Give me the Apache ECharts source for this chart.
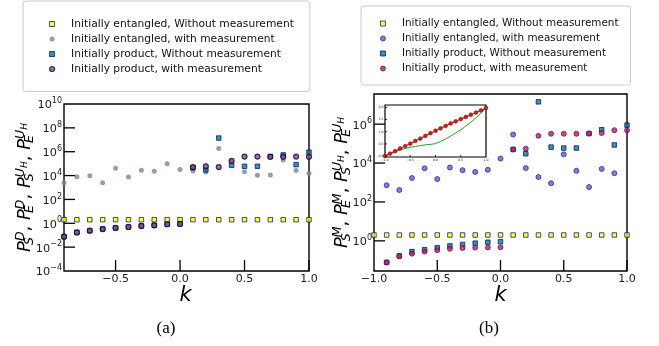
<!DOCTYPE html>
<html>
<head>
<meta charset="utf-8">
<script src="https://cdn.jsdelivr.net/npm/echarts@6/dist/echarts.min.js"></script>
<style>
  html, body { margin: 0; padding: 0; background: #fff; }
  #chart { width: 659px; height: 346px; }
</style>
</head>
<body>
<div id="chart"></div>
<script>
// k values
const kA = [-0.9, -0.8, -0.7, -0.6, -0.5, -0.4, -0.3, -0.2, -0.1, 0.0, 0.1, 0.2, 0.3, 0.4, 0.5, 0.6, 0.7, 0.8, 0.9, 1.0];
const kB = [-1.0, -0.9, -0.8, -0.7, -0.6, -0.5, -0.4, -0.3, -0.2, -0.1, 0.0, 0.1, 0.2, 0.3, 0.4, 0.5, 0.6, 0.7, 0.8, 0.9, 1.0];

// panel (a)
const entNoMeasA = [2, 2, 2, 2, 2, 2, 2, 2, 2, 2, 2, 2, 2, 2, 2, 2, 2, 2, 2, 2];
const entMeasA = [2.5e3, 8.1e3, 9.8e3, 2.5e3, 4.1e4, 7.6e3, 2.8e4, 2.3e4, 1.0e5, 3.3e4, 2.4e4, 2.0e4, 1.9e6, 1.6e5, 2.1e4, 1.05e4, 1.1e4, 2.0e5, 2.6e4, 1.6e4];
const prodNoMeasA = [0.076, 0.17, 0.24, 0.33, 0.41, 0.49, 0.60, 0.68, 0.83, 0.89, 4.5e4, 3.0e4, 1.4e7, 7.2e4, 6.0e4, 6.0e4, 4.0e5, 5.4e5, 8.3e4, 9.1e5];
const prodMeasA = [0.076, 0.17, 0.24, 0.33, 0.41, 0.49, 0.60, 0.68, 0.83, 0.89, 5.2e4, 6.0e4, 5.2e4, 1.7e5, 3.9e5, 3.9e5, 3.7e5, 3.7e5, 3.9e5, 3.7e5];

// panel (b)
const entNoMeasB = [2, 2, 2, 2, 2, 2, 2, 2, 2, 2, 2, 2, 2, 2, 2, 2, 2, 2, 2, 2, 2];
const entMeasB = [null, 720, 410, 1.7e3, 5.4e3, 1.5e3, 5.9e3, 4.3e3, 3.5e3, 4.5e3, 1.7e4, 2.9e5, 5.5e3, 1.9e3, 910, 2.8e4, 4.0e3, 580, 5.0e3, 3.0e3, null];
const prodNoMeasB = [null, 0.078, 0.17, 0.28, 0.35, 0.44, 0.55, 0.65, 0.76, 0.85, 0.91, 5.0e4, 3.0e4, 1.4e7, 6.6e4, 5.9e4, 5.9e4, 3.3e5, 5.2e5, 8.5e4, 8.9e5];
const prodMeasB = [null, 0.078, 0.16, 0.22, 0.28, 0.33, 0.39, 0.43, 0.45, 0.46, 0.47, 5.0e4, 5.5e4, 2.5e5, 3.2e5, 3.2e5, 3.2e5, 3.3e5, 3.5e5, 4.9e5, 4.9e5];

// inset of (b)
const redInset = [0.0, 0.10, 0.20, 0.31, 0.41, 0.51, 0.62, 0.72, 0.83, 0.94, 1.04, 1.14, 1.24, 1.34, 1.43, 1.52, 1.61, 1.70, 1.79, 1.88, 1.98];
const greenInset = [0.0, 0.09, 0.18, 0.25, 0.31, 0.36, 0.40, 0.43, 0.46, 0.48, 0.51, 0.60, 0.70, 0.82, 0.95, 1.08, 1.23, 1.39, 1.57, 1.77, 1.98];

// tick positions (y in log10 units)
const xTicksA = [-0.5, 0.0, 0.5, 1.0];
const yTicksA = [-2, 0, 2, 4, 6, 8];
const xTicksB = [-0.5, 0.0, 0.5, 1.0];
const yTicksB = [0, 2, 4, 6];
const xTicksIn = [-0.5, 0.0, 0.5];
const yTicksIn = [0.0, 0.5, 1.0, 1.5, 2.0];

const names = [
  'Initially entangled, Without measurement',
  'Initially entangled, with measurement',
  'Initially product, Without measurement',
  'Initially product, with measurement'
];

const FONT = 'DejaVu Sans';
const NAVY = '#000080';
const SQ = 'path://M0,0H10V10H0Z';

// y is drawn on a log10 value axis
function pts(ks, vals) {
  const out = [];
  ks.forEach((k, i) => { if (vals[i] != null) out.push([k, Math.log10(vals[i])]); });
  return out;
}
function plain(ks, vals) { return ks.map((k, i) => [k, vals[i]]); }

function powLabel(v) {
  const r = Math.round(v);
  if (Math.abs(v - r) > 1e-6) return '';
  return '{b|10}{e|' + String(r).replace('-', '\u2212') + '}';
}
function halfLabel(v) {
  if (Math.abs(v * 2 - Math.round(v * 2)) > 1e-6) return '';
  return v.toFixed(1).replace('-', '\u2212');
}

function powRich() {
  return {
    b: { fontFamily: FONT, fontSize: 11.3, color: '#222', lineHeight: 14, verticalAlign: 'bottom' },
    e: { fontFamily: FONT, fontSize: 8, color: '#222', lineHeight: 8, verticalAlign: 'top' }
  };
}
function nameRich() {
  return {
    p: { fontFamily: FONT, fontStyle: 'italic', fontSize: 18, fill: '#000', lineHeight: 22, verticalAlign: 'middle' },
    c: { fontFamily: FONT, fontSize: 18, fill: '#000', lineHeight: 22, verticalAlign: 'middle' },
    sb: { fontFamily: FONT, fontStyle: 'italic', fontSize: 12.5, fill: '#000', lineHeight: 12, verticalAlign: 'bottom', width: 0 },
    sp: { fontFamily: FONT, fontStyle: 'italic', fontSize: 12.5, fill: '#000', lineHeight: 12, verticalAlign: 'top' },
    ss: { fontFamily: FONT, fontStyle: 'italic', fontSize: 9, fill: '#000', lineHeight: 9, verticalAlign: 'top', padding: [6, 0, 0, 0] }
  };
}
function yName(m) {
  return '{p|P}{sb|S}{sp|' + m + '}{c|, }{p|P}{sb|E}{sp|' + m + '}{c|, }' +
         '{p|P}{sb|S}{sp|U}{ss|H}{c|, }{p|P}{sb|E}{sp|U}{ss|H}';
}

function xAx(gi, min, max) {
  return {
    type: 'value', gridIndex: gi, min: min, max: max, minInterval: 0.5, maxInterval: 0.5,
    axisLine: { show: false, onZero: false }, axisTick: { show: false }, splitLine: { show: false },
    axisLabel: { formatter: halfLabel, fontFamily: FONT, fontSize: 11, color: '#222', margin: 3 }
  };
}
function yAx(gi, min, max) {
  return {
    type: 'value', gridIndex: gi, min: min, max: max, minInterval: 2, maxInterval: 2,
    axisLine: { show: false, onZero: false }, axisTick: { show: false }, splitLine: { show: false },
    axisLabel: { formatter: powLabel, rich: powRich(), margin: 2 }
  };
}
function insetAx(min, max) {
  return {
    type: 'value', gridIndex: 2, min: min, max: max, minInterval: 0.5, maxInterval: 0.5, z: 11,
    axisLine: { show: false, onZero: false }, axisTick: { show: false }, splitLine: { show: false },
    axisLabel: { formatter: halfLabel, fontFamily: FONT, fontSize: 3.2, color: '#222', margin: 1.5 }
  };
}

// inward ticks, placed through the axes' own scale
function tickSeries(idx, dir, values, other, len, w, z) {
  return {
    type: 'custom', xAxisIndex: idx, yAxisIndex: idx, z: z, clip: false, silent: true,
    data: values.map(v => dir === 'x' ? [v, other] : [other, v]),
    renderItem: function (params, api) {
      const cs = params.coordSys;
      const p = api.coord([api.value(0), api.value(1)]);
      const shape = dir === 'x'
        ? { x1: p[0], y1: cs.y + cs.height, x2: p[0], y2: cs.y + cs.height - len }
        : { x1: cs.x, y1: p[1], x2: cs.x + len, y2: p[1] };
      return { type: 'line', shape: shape, style: { stroke: '#000', lineWidth: w } };
    }
  };
}

const styles = {
  a: [
    { symbol: 'rect', size: 4.5, itemStyle: { color: '#ffff00', borderColor: NAVY, borderWidth: 0.9 } },
    { symbol: 'circle', size: 5, itemStyle: { color: '#778899', borderWidth: 0 } },
    { symbol: 'rect', size: 4.5, itemStyle: { color: '#008080', borderColor: NAVY, borderWidth: 0.9 } },
    { symbol: 'circle', size: 5, itemStyle: { color: '#a0522d', borderColor: NAVY, borderWidth: 1.2 } }
  ],
  b: [
    { symbol: 'rect', size: 4.5, itemStyle: { color: '#ffff00', borderColor: NAVY, borderWidth: 0.9 } },
    { symbol: 'circle', size: 5, itemStyle: { color: '#6a5acd', borderColor: '#2a1a9a', borderWidth: 0.9 } },
    { symbol: 'rect', size: 4.5, itemStyle: { color: '#008080', borderColor: NAVY, borderWidth: 0.9 } },
    { symbol: 'circle', size: 5, itemStyle: { color: '#dc143c', borderColor: '#2a1a9a', borderWidth: 0.9 } }
  ]
};

function legend(left, top, padding, fontSize, st) {
  return {
    orient: 'vertical', left: left, top: top, padding: padding,
    itemWidth: 28, itemHeight: 5, itemGap: 2, selectedMode: false,
    backgroundColor: '#fff', borderColor: '#cccccc', borderWidth: 1, borderRadius: 3,
    textStyle: { fontFamily: FONT, fontSize: fontSize, color: '#111', lineHeight: 13 },
    data: names.map((n, i) => ({
      name: n,
      icon: st[i].symbol === 'rect' ? SQ : 'circle',
      itemStyle: st[i].itemStyle
    }))
  };
}

function label(x, y, text, style, rot) {
  return { type: 'text', x: x, y: y, rotation: rot || 0, silent: true,
           style: Object.assign({ text: text, textAlign: 'center', textVerticalAlign: 'middle' }, style) };
}

const dataA = [entNoMeasA, entMeasA, prodNoMeasA, prodMeasA];
const dataB = [entNoMeasB, entMeasB, prodNoMeasB, prodMeasB];

const series = [];
dataA.forEach((d, i) => series.push({
  name: names[i], type: 'scatter', xAxisIndex: 0, yAxisIndex: 0, z: 2 + i * 0.1,
  symbol: styles.a[i].symbol, symbolSize: styles.a[i].size, itemStyle: styles.a[i].itemStyle,
  data: pts(kA, d)
}));
dataB.forEach((d, i) => series.push({
  name: names[i], type: 'scatter', xAxisIndex: 1, yAxisIndex: 1, z: 2 + i * 0.1,
  symbol: styles.b[i].symbol, symbolSize: styles.b[i].size, itemStyle: styles.b[i].itemStyle,
  data: pts(kB, d)
}));
series.push({
  type: 'line', xAxisIndex: 2, yAxisIndex: 2, z: 12, showSymbol: false, symbol: 'none',
  lineStyle: { color: '#22a022', width: 1 }, data: plain(kB, greenInset)
});
series.push({
  type: 'line', xAxisIndex: 2, yAxisIndex: 2, z: 13, symbol: 'circle', symbolSize: 3.8,
  lineStyle: { color: '#e03030', width: 1.2 },
  itemStyle: { color: '#c82020', borderColor: '#801818', borderWidth: 0.6 },
  data: plain(kB, redInset)
});
series.push(tickSeries(0, 'x', xTicksA, -4, 11, 1.3, 5));
series.push(tickSeries(0, 'y', yTicksA, -0.9, 11, 1.3, 5));
series.push(tickSeries(1, 'x', xTicksB, -1.55, 11, 1.3, 5));
series.push(tickSeries(1, 'y', yTicksB, -1.0, 11, 1.3, 5));
series.push(tickSeries(2, 'x', xTicksIn, -0.04, 2, 0.8, 14));
series.push(tickSeries(2, 'y', yTicksIn, -1.0, 2, 0.8, 14));

const kStyle = { fontFamily: FONT, fontStyle: 'italic', fontSize: 21, fill: '#000' };
const capStyle = { fontFamily: 'Liberation Serif', fontSize: 17, fill: '#000' };

const chart = echarts.init(document.getElementById('chart'));
chart.setOption({
  animation: false,
  legend: [
    legend(23, 1, [16.5, 16, 16, 26], 10.7, styles.a),
    legend(361, 6, [11, 12, 10, 19], 10.4, styles.b)
  ],
  grid: [
    { left: 64, top: 104, width: 245, height: 167, show: true, borderColor: '#000', borderWidth: 1.4 },
    { left: 374, top: 94, width: 253, height: 177, show: true, borderColor: '#000', borderWidth: 1.4 },
    { left: 385, top: 105, width: 101, height: 52, show: true, backgroundColor: '#fff', borderColor: '#000', borderWidth: 1.2, z: 10 }
  ],
  xAxis: [xAx(0, -0.9, 1.0), xAx(1, -1.0, 1.0), insetAx(-1, 1)],
  yAxis: [yAx(0, -4, 10), yAx(1, -1.55, 7.55), insetAx(-0.04, 2.1)],
  series: series,
  graphic: [
    label(25, 187.5, yName('D'), { rich: nameRich() }, Math.PI / 2),
    label(342, 182.5, yName('M'), { rich: nameRich() }, Math.PI / 2),
    label(185.5, 296, 'k', kStyle),
    label(500.5, 296, 'k', kStyle),
    label(166, 329, '(a)', capStyle),
    label(489, 329, '(b)', capStyle)
  ]
});
window.addEventListener('resize', function () { chart.resize(); });
</script>
</body>
</html>
